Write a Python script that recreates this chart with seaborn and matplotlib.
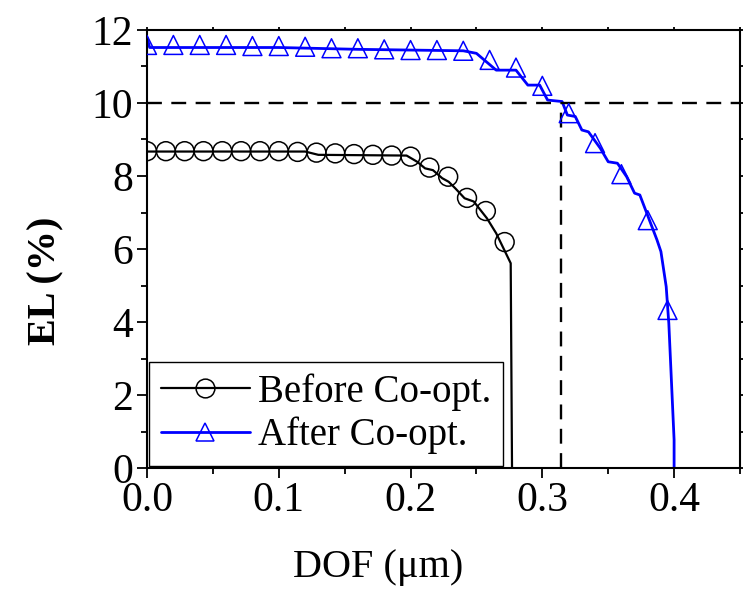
import numpy as np
import pandas as pd
import matplotlib
matplotlib.use("Agg")
import matplotlib.pyplot as plt
from matplotlib.lines import Line2D
from matplotlib.ticker import MultipleLocator
import seaborn as sns

# curve before co-optimization (line + circle markers)
before_line_x = [0.0, 0.12, 0.13, 0.197, 0.205, 0.211, 0.217, 0.224, 0.229, 0.234,
                 0.241, 0.248, 0.253, 0.258, 0.265, 0.276, 0.277]
before_line_y = [8.67, 8.67, 8.58, 8.56, 8.39, 8.21, 8.16, 7.94, 7.84, 7.66,
                 7.39, 7.30, 7.07, 6.84, 6.43, 5.61, 0.0]
before_mark_x = [i / 70 for i in range(20)]
before_mark_y = [8.68, 8.68, 8.68, 8.68, 8.68, 8.68, 8.68, 8.68, 8.66, 8.64,
                 8.62, 8.60, 8.58, 8.56, 8.53, 8.23, 7.98, 7.40, 7.04, 6.19]

# curve after co-optimization (line + triangle markers)
after_line_x = [0.0, 0.002, 0.1, 0.16, 0.24, 0.25, 0.265, 0.28, 0.289, 0.298,
                0.304, 0.315, 0.319, 0.325, 0.33, 0.335, 0.344, 0.35, 0.357, 0.364,
                0.370, 0.374, 0.387, 0.390, 0.394, 0.396, 0.400, 0.400]
after_line_y = [11.8, 11.52, 11.52, 11.47, 11.43, 11.36, 10.9, 10.9, 10.49, 10.49,
                10.08, 10.04, 9.67, 9.63, 9.26, 9.21, 8.76, 8.39, 8.35, 7.98,
                7.53, 7.48, 6.25, 5.93, 4.97, 3.96, 0.77, 0.0]
after_mark_x = [0.0, 0.02, 0.04, 0.06, 0.08, 0.10, 0.12, 0.14, 0.16, 0.18, 0.20,
                0.22, 0.24, 0.26, 0.28, 0.30, 0.32, 0.34, 0.36, 0.38, 0.395]
after_mark_y = [11.59, 11.59, 11.59, 11.59, 11.56, 11.56, 11.54, 11.50, 11.50, 11.47,
                11.45, 11.45, 11.43, 11.18, 10.97, 10.47, 9.72, 8.90, 8.05, 6.79, 4.33]

el_target = 10.0
dof_at_target = 0.314
labels = ["Before Co-opt.", "After Co-opt."]

sns.set_style("ticks")
plt.rcParams["font.family"] = ["Liberation Serif", "DejaVu Serif"]
plt.rcParams["axes.linewidth"] = 1.5
plt.rcParams["text.color"] = "black"
plt.rcParams["axes.labelcolor"] = "black"
plt.rcParams["xtick.color"] = "black"
plt.rcParams["ytick.color"] = "black"

fig = plt.figure(figsize=(7.44, 5.95), dpi=100)
ax = fig.add_axes([0.1976, 0.2134, 0.797, 0.7362])

sns.lineplot(x=before_line_x, y=before_line_y, color="black", lw=1.6,
             sort=False, estimator=None, ax=ax)
sns.lineplot(x=after_line_x, y=after_line_y, color="#0000ff", lw=2.0,
             sort=False, estimator=None, ax=ax)
sns.scatterplot(x=before_mark_x, y=before_mark_y, marker="o", s=185,
                facecolors="none", edgecolors="black", linewidths=1.1, ax=ax, zorder=3)
sns.scatterplot(x=after_mark_x, y=after_mark_y, marker="^", s=185,
                facecolors="none", edgecolors="#0000ff", linewidths=1.1, ax=ax, zorder=3)

dash = (0, (6.3, 4.0))
ax.plot([0, 0.45], [el_target, el_target], color="black", lw=1.7, linestyle=dash)
ax.plot([dof_at_target, dof_at_target], [0, el_target], color="black", lw=1.7, linestyle=dash)

ax.set_xlim(0, 0.45)
ax.set_ylim(0, 12)
ax.xaxis.set_major_locator(MultipleLocator(0.1))
ax.xaxis.set_minor_locator(MultipleLocator(0.05))
ax.yaxis.set_major_locator(MultipleLocator(2))
ax.yaxis.set_minor_locator(MultipleLocator(1))
ax.xaxis.set_major_formatter(plt.FormatStrFormatter("%.1f"))

ax.tick_params(which="both", direction="out", width=1.3, top=True, right=True,
               labelsize=30, colors="black")
ax.tick_params(which="major", length=7, pad=3)
ax.tick_params(which="minor", length=4.5)
for t in ax.xaxis.get_major_ticks() + ax.yaxis.get_major_ticks():
    t.tick2line.set_markersize(2)
for t in ax.xaxis.get_minor_ticks() + ax.yaxis.get_minor_ticks():
    t.tick2line.set_markersize(2)
for s in ax.spines.values():
    s.set_color("black")

ax.set_xlabel("DOF (μm)", fontsize=29, color="black")
ax.set_ylabel("EL (%)", fontsize=29, fontweight="bold", color="black")
ax.xaxis.set_label_coords(0.39, -0.185)
ax.yaxis.set_label_coords(-0.14, 0.427)

handles = [
    Line2D([], [], color="black", lw=1.6, marker="o", markersize=13.5,
           markerfacecolor="none", markeredgecolor="black", markeredgewidth=1.1),
    Line2D([], [], color="#0000ff", lw=2.0, marker="^", markersize=13.5,
           markerfacecolor="none", markeredgecolor="#0000ff", markeredgewidth=1.1),
]
leg = ax.legend(handles, labels, loc="lower left", fontsize=28, frameon=True,
                fancybox=False, edgecolor="black", framealpha=1,
                borderaxespad=0.05, borderpad=0.3, labelspacing=0.15,
                handlelength=2.3, handletextpad=0.2)
leg.get_frame().set_linewidth(1.0)
for txt in leg.get_texts():
    txt.set_color("black")

fig.savefig("out.png", dpi=100)
